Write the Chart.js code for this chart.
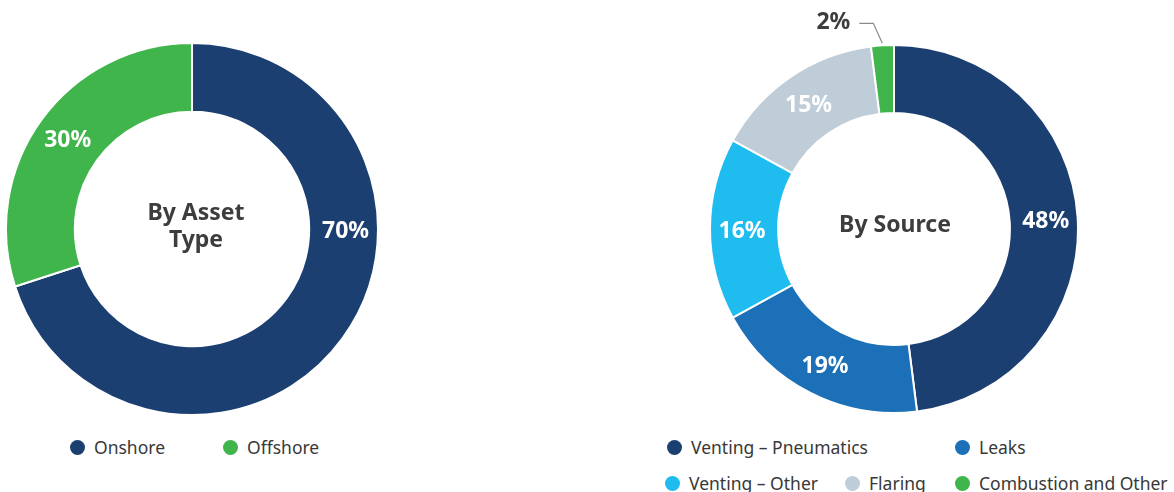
<!DOCTYPE html>
<html>
<head>
<meta charset="utf-8">
<script src="https://cdn.jsdelivr.net/npm/chart.js@4.4.1/dist/chart.umd.min.js"></script>
<style>
  html, body { margin: 0; padding: 0; background: #fff; }
  #page { position: relative; width: 1174px; height: 492px; overflow: hidden; font-family: 'Noto Sans', Lato, sans-serif; }
  .donut { position: absolute; }
  .legend { position: absolute; color: #383838; font-size: 17.5px; }
  .legend .item { position: absolute; white-space: nowrap; display: flex; align-items: center; }
  .legend .dot { width: 15px; height: 15px; border-radius: 50%; margin-right: 9px; }
</style>
</head>
<body>
<div id="page">
  <div class="donut" style="left:5px; top:42px; width:374px; height:374px;"><canvas id="assetChart"></canvas></div>
  <div class="donut" style="left:660px; top:0px; width:420px; height:418px;"><canvas id="sourceChart"></canvas></div>
  <div class="legend" id="assetLegend"></div>
  <div class="legend" id="sourceLegend"></div>
</div>
<script>
const assetLabels = ['Onshore', 'Offshore'];
const assetShares = [70, 30];
const assetColors = ['#1c3f71', '#3fb54b'];

const sourceLabels = ['Venting – Pneumatics', 'Leaks', 'Venting – Other', 'Flaring', 'Combustion and Other'];
const sourceShares = [48, 19, 16, 15, 2];
const sourceColors = ['#1c3f71', '#1b70b7', '#1fbcef', '#bfcdd8', '#3fb54b'];

const FONT = "bold 23px 'Noto Sans'";

// percent labels on each slice; tiny slices get a leader line outside the ring
const sliceLabels = {
  id: 'sliceLabels',
  afterDatasetsDraw(chart, args, opts) {
    const ctx = chart.ctx;
    const meta = chart.getDatasetMeta(0);
    const values = chart.data.datasets[0].data;
    const angles = opts.angles || {};

    ctx.save();
    ctx.font = FONT;
    ctx.textBaseline = 'middle';
    meta.data.forEach((arc, i) => {
      const p = arc.getProps(['x', 'y', 'startAngle', 'endAngle', 'innerRadius', 'outerRadius'], true);
      const text = values[i] + '%';
      let a = (p.startAngle + p.endAngle) / 2;
      if (angles[i] !== undefined) a = angles[i] * Math.PI / 180 - Math.PI / 2;

      if (values[i] < 5) {
        const ex = p.x + Math.cos(a) * (p.outerRadius + 2);
        const ey = p.y + Math.sin(a) * (p.outerRadius + 2);
        const kx = ex - 9;
        const ky = ey - 20;
        ctx.strokeStyle = '#8a8a8a';
        ctx.lineWidth = 1.2;
        ctx.beginPath();
        ctx.moveTo(ex, ey);
        ctx.lineTo(kx, ky);
        ctx.lineTo(kx - 14, ky);
        ctx.stroke();
        ctx.fillStyle = '#3d3d3d';
        ctx.textAlign = 'right';
        ctx.fillText(text, kx - 23, ky - 1);
        return;
      }

      const r = (p.innerRadius + p.outerRadius) / 2 + 2;
      ctx.fillStyle = '#ffffff';
      ctx.textAlign = 'center';
      ctx.fillText(text, p.x + Math.cos(a) * r, p.y + Math.sin(a) * r + 2);
    });

    // title in the hole
    const c = meta.data[0];
    ctx.fillStyle = '#3d3d3d';
    ctx.textAlign = 'center';
    const lines = opts.title || [];
    const lh = 27;
    lines.forEach((line, k) => {
      ctx.fillText(line, c.x + (opts.titleShift || 0), c.y + (k - (lines.length - 1) / 2) * lh + opts.titleDy);
    });
    ctx.restore();
  }
};

function makeDonut(id, labels, values, colors, padding, labelOpts) {
  return new Chart(document.getElementById(id), {
    type: 'doughnut',
    data: {
      labels: labels,
      datasets: [{
        data: values,
        backgroundColor: colors,
        borderColor: '#ffffff',
        borderWidth: 2,
      }],
    },
    options: {
      responsive: true,
      maintainAspectRatio: false,
      animation: false,
      events: [],
      cutout: '63%',
      layout: { padding: padding },
      plugins: {
        legend: { display: false },
        tooltip: { enabled: false },
        sliceLabels: labelOpts,
      },
    },
    plugins: [sliceLabels],
  });
}

function buildLegend(id, labels, colors, spots) {
  const box = document.getElementById(id);
  labels.forEach((label, i) => {
    const item = document.createElement('div');
    item.className = 'item';
    item.style.left = spots[i][0] + 'px';
    item.style.top = spots[i][1] + 'px';
    const dot = document.createElement('span');
    dot.className = 'dot';
    dot.style.background = colors[i];
    const txt = document.createElement('span');
    txt.textContent = label;
    item.appendChild(dot);
    item.appendChild(txt);
    box.appendChild(item);
  });
}

makeDonut('assetChart', assetLabels, assetShares, assetColors, 0, {
  angles: { 0: 90 },
  title: ['By Asset', 'Type'],
  titleShift: 4,
  titleDy: -2,
});
makeDonut('sourceChart', sourceLabels, sourceShares, sourceColors, { top: 44, left: 49, right: 1, bottom: 4 }, {
  title: ['By Source'],
  titleShift: 1,
  titleDy: -4,
});

buildLegend('assetLegend', assetLabels, assetColors, [[70, 435], [223, 435]]);
buildLegend('sourceLegend', sourceLabels, sourceColors, [[667, 435], [955, 435], [665, 471], [845, 471], [955, 471]]);
</script>
</body>
</html>
